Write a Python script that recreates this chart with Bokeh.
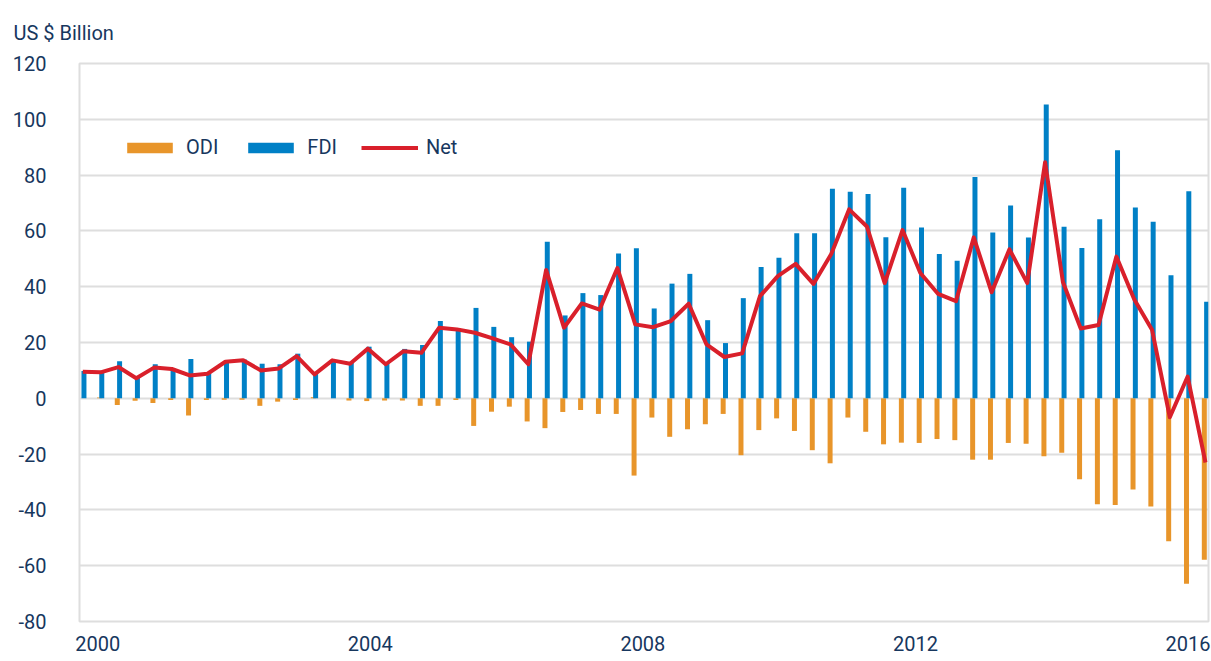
from bokeh.plotting import figure
from bokeh.models import (Range1d, LinearAxis, FixedTicker, Legend, LegendItem,
                          ColumnDataSource)
from bokeh.transform import dodge
from bokeh.embed import file_html
from bokeh.resources import INLINE

# ---------------- data (US $ billion, quarterly 2000Q1 - 2015Q4) ----------------
quarters = [f"{y}Q{q}" for y in range(2000, 2016) for q in range(1, 5)]

fdi = [9.8, 9.5, 13.3, 7.4, 12.2, 10.7, 14.1, 9.2, 13.3, 13.9,
       12.4, 12.2, 16.0, 9.2, 13.4, 12.8, 18.5, 12.8, 17.7, 19.1,
       27.7, 25.0, 32.4, 25.6, 21.9, 20.3, 56.1, 29.7, 37.7, 37.0,
       51.9, 53.8, 32.2, 41.1, 44.6, 28.0, 19.8, 35.9, 47.1, 50.4,
       59.2, 59.2, 75.1, 74.0, 73.2, 57.7, 75.5, 61.2, 51.7, 49.3,
       79.3, 59.4, 69.1, 57.6, 105.3, 61.5, 53.9, 64.2, 88.9, 68.4,
       63.3, 44.1, 74.2, 34.6]

odi = [0.0, 0.3, -2.4, -0.9, -1.7, -0.6, -6.2, -0.6, -0.5, -0.5,
       -2.7, -1.2, -0.6, 0.4, 0.0, -0.8, -1.0, -0.8, -0.8, -2.7,
       -2.7, -0.6, -9.9, -4.8, -3.0, -8.3, -10.7, -4.9, -4.2, -5.6,
       -5.6, -27.7, -6.9, -13.8, -11.1, -9.3, -5.6, -20.4, -11.4, -7.2,
       -11.7, -18.6, -23.3, -6.9, -12.0, -16.5, -15.9, -16.0, -14.6, -15.0,
       -22.0, -22.0, -16.0, -16.3, -20.8, -19.5, -29.0, -38.0, -38.2, -32.7,
       -38.8, -51.2, -66.5, -57.9]

net = [9.5, 9.3, 11.2, 7.2, 11.0, 10.5, 8.2, 8.8, 13.1, 13.6,
       10.0, 10.7, 15.1, 8.6, 13.6, 12.4, 17.8, 12.2, 16.9, 16.3,
       25.3, 24.7, 23.5, 21.5, 19.3, 12.2, 46.0, 25.3, 34.0, 31.8,
       46.7, 26.5, 25.5, 27.7, 33.9, 19.3, 14.8, 16.1, 36.6, 43.8,
       48.2, 41.0, 51.7, 67.7, 61.6, 41.3, 60.3, 44.9, 37.4, 34.8,
       57.7, 38.0, 53.4, 41.3, 84.6, 41.7, 25.0, 26.3, 50.8, 35.5,
       24.6, -6.8, 7.8, -23.0]

tick_years = [2000, 2004, 2008, 2012, 2016]
y_ticks = [-80, -60, -40, -20, 0, 20, 40, 60, 80, 100, 120]
y_tick_labels = ["-80", "-60", "-40", "-20", "0", "20", "40", "60", "80", "100", "120"]
unit_label = "US $ Billion"

# ---------------- style ----------------
FONT = "Roboto"
FSIZE = "20px"
NAVY = "#17375e"
BLUE = "#0080c6"
ORANGE = "#e8952a"
RED = "#d9202b"
GRID = "#dedede"

source = ColumnDataSource(dict(q=quarters, pos=list(range(len(quarters))),
                               fdi=fdi, odi=odi, net=net))

p = figure(width=1211, height=661, output_backend="svg", toolbar_location=None,
           x_range=Range1d(-0.185, 63.17), y_range=Range1d(-80, 120),
           x_axis_location=None,
           min_border_left=79, min_border_right=3,
           min_border_top=62, min_border_bottom=40)
p.extra_x_ranges = {"years": Range1d(1999.733, 2016.30)}

p.outline_line_color = GRID
p.outline_line_width = 2
p.background_fill_color = "white"
p.border_fill_color = "white"

p.xgrid.visible = False
p.ygrid.ticker = FixedTicker(ticks=y_ticks)
p.ygrid.grid_line_color = GRID
p.ygrid.grid_line_width = 2

# y axis
p.yaxis.ticker = FixedTicker(ticks=y_ticks)
p.yaxis.major_label_overrides = dict(zip(y_ticks, y_tick_labels))
p.yaxis.axis_line_color = None
p.yaxis.major_tick_line_color = None
p.yaxis.minor_tick_line_color = None
p.yaxis.major_tick_out = 0
p.yaxis.major_tick_in = 0
p.yaxis.major_label_standoff = 33
p.yaxis.major_label_text_font = FONT
p.yaxis.major_label_text_font_size = FSIZE
p.yaxis.major_label_text_color = NAVY

# year axis (labels)
xa = LinearAxis(x_range_name="years", ticker=FixedTicker(ticks=tick_years))
xa.axis_line_color = None
xa.major_tick_line_color = None
xa.minor_tick_line_color = None
xa.major_tick_out = 0
xa.major_tick_in = 0
xa.major_label_standoff = 14
xa.major_label_text_font = FONT
xa.major_label_text_font_size = FSIZE
xa.major_label_text_color = NAVY
p.add_layout(xa, "below")

# unit title (top-left)
p.title.text = unit_label
p.title.align = "left"
p.title.offset = -66
p.title.standoff = 37
p.title.text_font = FONT
p.title.text_font_size = FSIZE
p.title.text_font_style = "normal"
p.title.text_color = NAVY

# glyphs
r_odi = p.vbar(x=dodge("pos", -0.065), top="odi", bottom=0, width=0.28,
               source=source, fill_color=ORANGE, line_color=None)
r_fdi = p.vbar(x=dodge("pos", 0.065), top="fdi", bottom=0, width=0.28,
               source=source, fill_color=BLUE, line_color=None)
r_net = p.line(x="pos", y="net", source=source, line_color=RED, line_width=4,
               line_join="round")

legend = Legend(items=[LegendItem(label="ODI", renderers=[r_odi]),
                       LegendItem(label="FDI", renderers=[r_fdi]),
                       LegendItem(label="Net", renderers=[r_net])],
                orientation="horizontal", location=(42, 462),
                glyph_width=57, glyph_height=13, label_standoff=8, spacing=24,
                padding=0, margin=0, border_line_color=None,
                background_fill_alpha=0,
                label_text_font=FONT, label_text_font_size=FSIZE,
                label_text_color=NAVY)
p.add_layout(legend)

open("out.html", "w").write(file_html(p, INLINE))
